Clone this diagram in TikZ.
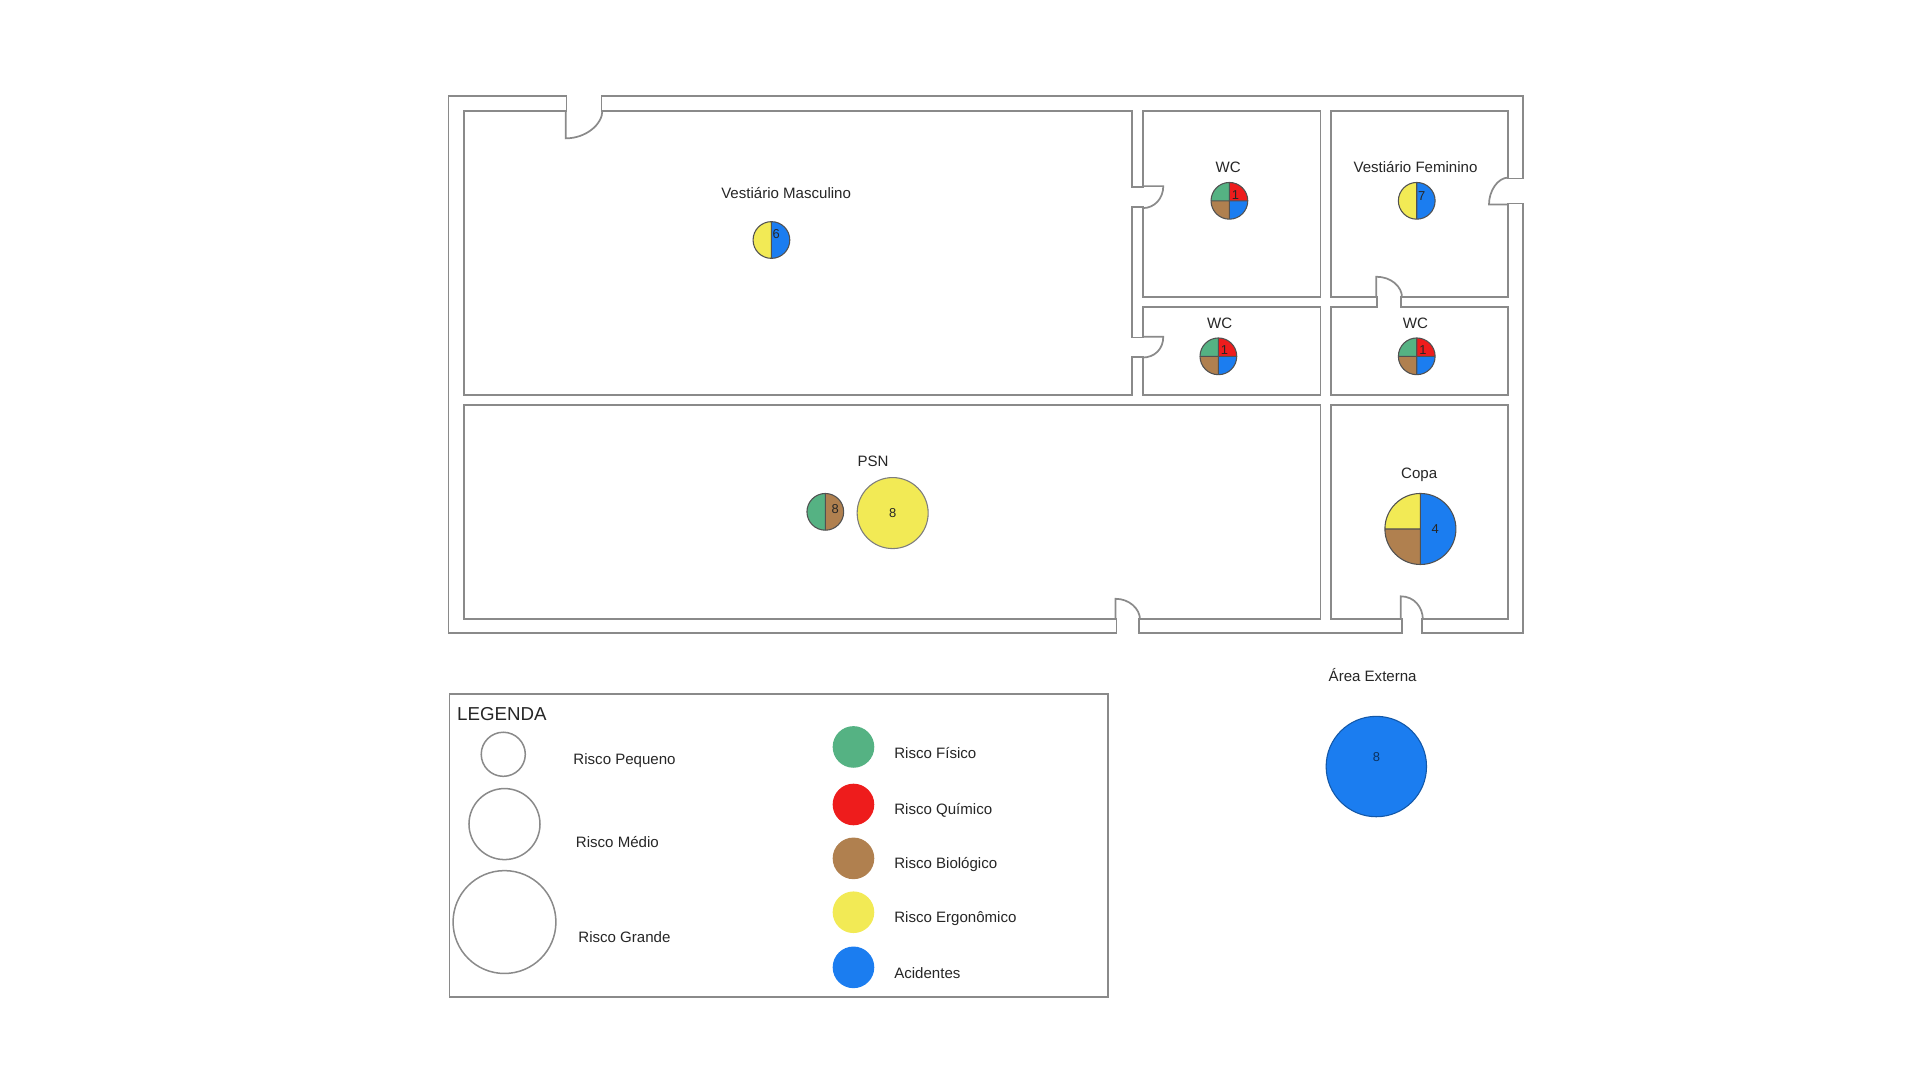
\documentclass[tikz,border=0pt]{standalone}
\usepackage{fontspec}
\setmainfont{Liberation Sans}
\usepackage{xcolor}
\usetikzlibrary{calc}

\definecolor{wall}{HTML}{8A8A8A}
\definecolor{ink}{HTML}{262626}
\definecolor{fisico}{HTML}{55B283}
\definecolor{quimico}{HTML}{EE1C1C}
\definecolor{biologico}{HTML}{B0804F}
\definecolor{ergonomico}{HTML}{F2EA55}
\definecolor{acidente}{HTML}{1B7DF0}

%% wall pieces: x1/y1/x2/y2 (y measured downwards)
\newcommand{\wallrects}{367/79/462/90, 492/79/1243/90, 367/79/378/516,
  367/506/911/516, 931/506/1144/516, 1162/506/1243/516,
  1232/79/1243/145, 1232/167/1243/516, 378/323/1232/330,
  925/90/933/152, 925/170/933/275, 925/292/933/323,
  1079/90/1086/506, 933/243/1124/250, 1145/243/1232/250}

\begin{document}
\begin{tikzpicture}[x=0.02cm, y=0.02cm,
  room/.style={text=ink, font=\fontsize{7}{8}\selectfont},
  num/.style={text=ink, font=\fontsize{6}{7}\selectfont},
  door/.style={wall, line width=0.8pt},
  rim/.style={draw=ink!80, line width=0.5pt}]
\useasboundingbox (0,0) rectangle (1568,-882);
%% walls
\foreach \xa/\ya/\xb/\yb in \wallrects
  \draw[wall, line width=1.6pt] (\xa,-\ya) rectangle (\xb,-\yb);
\foreach \xa/\ya/\xb/\yb in \wallrects
  \fill[white] (\xa,-\ya) rectangle (\xb,-\yb);
%% doors
\draw[door] (462,-90) -- (462,-113) .. controls (478,-113) and (492,-102) .. (492,-90);
\draw[door] (1232,-167) -- (1216,-167) .. controls (1216,-156) and (1223,-145) .. (1232,-145);
\draw[door] (933,-152) -- (950,-152) .. controls (950,-162) and (943,-170) .. (933,-170);
\draw[door] (933,-275) -- (950,-275) .. controls (950,-285) and (943,-292) .. (933,-292);
\draw[door] (1124,-243) -- (1124,-226) .. controls (1136,-226) and (1145,-234) .. (1145,-243);
\draw[door] (911,-506) -- (911,-489) .. controls (922,-489) and (931,-497) .. (931,-506);
\draw[door] (1144,-506) -- (1144,-487) .. controls (1155,-487) and (1162,-496) .. (1162,-506);

%% risk points
\coordinate (vm) at (630,-196);
\coordinate (wca) at (1004,-164);
\coordinate (vf) at (1157,-164);
\coordinate (wcb) at (995,-291);
\coordinate (wcc) at (1157,-291);
\coordinate (psna) at (674,-418);
\coordinate (psnb) at (729,-419);
\coordinate (copa) at (1160,-432);
\coordinate (ext) at (1124,-626);

\foreach \c in {vm, vf} {
  \fill[ergonomico] (\c) -- ++(90:15) arc[start angle=90, end angle=270, radius=15] -- cycle;
  \fill[acidente] (\c) -- ++(-90:15) arc[start angle=-90, end angle=90, radius=15] -- cycle;
  \draw[rim] (\c) circle (15) ($(\c)+(0,15)$) -- ($(\c)+(0,-15)$);
}
\foreach \c in {wca, wcb, wcc} {
  \foreach \a/\b/\k in {90/180/fisico, 0/90/quimico, 180/270/biologico, 270/360/acidente}
    \fill[\k] (\c) -- ++(\a:15) arc[start angle=\a, end angle=\b, radius=15] -- cycle;
  \draw[rim] (\c) circle (15) ($(\c)+(0,15)$) -- ($(\c)+(0,-15)$) ($(\c)+(-15,0)$) -- ($(\c)+(15,0)$);
  \node[num] at ($(\c)+(5,5)$) {1};
}
\fill[fisico] (psna) -- ++(90:15) arc[start angle=90, end angle=270, radius=15] -- cycle;
\fill[biologico] (psna) -- ++(-90:15) arc[start angle=-90, end angle=90, radius=15] -- cycle;
\draw[rim] (psna) circle (15) ($(psna)+(0,15)$) -- ($(psna)+(0,-15)$);
\filldraw[fill=ergonomico, draw=ink!60, line width=0.5pt] (psnb) circle (29);
\fill[ergonomico] (copa) -- ++(90:29) arc[start angle=90, end angle=180, radius=29] -- cycle;
\fill[biologico] (copa) -- ++(180:29) arc[start angle=180, end angle=270, radius=29] -- cycle;
\fill[acidente] (copa) -- ++(-90:29) arc[start angle=-90, end angle=90, radius=29] -- cycle;
\draw[rim] (copa) circle (29) ($(copa)+(0,29)$) -- ($(copa)+(0,-29)$) ($(copa)+(-29,0)$) -- (copa);
\filldraw[fill=acidente, draw=acidente!70!black, line width=0.5pt] (ext) circle (41);

%% numbers
\node[num] at ($(vm)+(4,5)$) {6};
\node[num] at ($(vf)+(4,4)$) {7};
\node[num] at ($(psna)+(8,2)$) {8};
\node[num] at (psnb) {8};
\node[num] at ($(copa)+(12,0)$) {4};
\node[num, text=acidente!40!black] at ($(ext)+(0,8)$) {8};

%% room names
\node[room] (lvm) at (642,-158) {Vestiário Masculino};
\node[room] (lwca) at (1003,-137) {WC};
\node[room] (lvf) at (1156,-136) {Vestiário Feminino};
\node[room] (lwcb) at (996,-264) {WC};
\node[room] (lwcc) at (1156,-264) {WC};
\node[room] (lpsn) at (713,-377) {PSN};
\node[room] (lcopa) at (1159,-388) {Copa};
\node[room] (lext) at (1121,-551) {Área Externa};

%% legend
\draw[wall, line width=0.8pt] (367,-567) rectangle (905,-814);
\node[text=ink, font=\fontsize{8.7}{10}\selectfont, anchor=west, inner sep=0pt] (leg) at (373,-583) {LEGENDA};
\draw[wall, line width=0.7pt] (411,-616) circle (18);
\draw[wall, line width=0.7pt] (412,-673) circle (29);
\draw[wall, line width=0.7pt] (412,-753) circle (42);
\node[room, anchor=west, inner sep=0pt] (lpeq) at (468,-621) {Risco Pequeno};
\node[room, anchor=west, inner sep=0pt] (lmed) at (470,-688) {Risco Médio};
\node[room, anchor=west, inner sep=0pt] (lgra) at (472,-765) {Risco Grande};
\foreach \y/\k/\t in {610/fisico/Risco Físico, 657/quimico/Risco Químico,
    701/biologico/Risco Biológico, 745/ergonomico/Risco Ergonômico, 790/acidente/Acidentes} {
  \fill[\k] (697,-\y) circle (17);
  \node[room, anchor=west, inner sep=0pt] at (730,-\y-5) {\t};
}
\end{tikzpicture}
\end{document}
